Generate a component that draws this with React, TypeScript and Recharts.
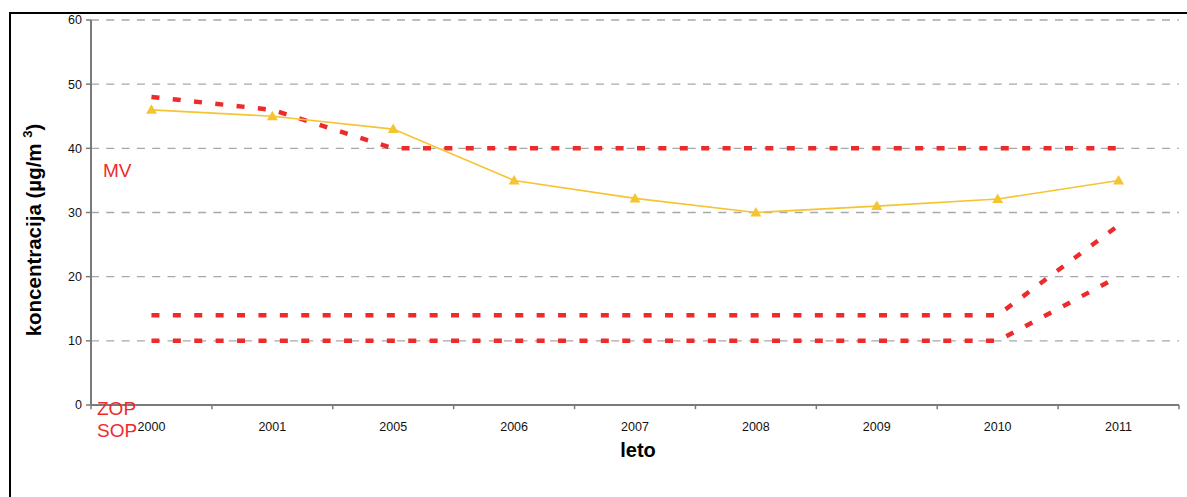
import { LineChart, Line, XAxis, YAxis, CartesianGrid, ReferenceLine } from "recharts";

const years = ["2000", "2001", "2005", "2006", "2007", "2008", "2009", "2010", "2011"];
const koncentracija = [46, 45, 43, 35, 32.2, 30, 31, 32.1, 35];
const mv = [48, 46, 40, 40, 40, 40, 40, 40, 40];
const zop = [14, 14, 14, 14, 14, 14, 14, 14, 28];
const sop = [10, 10, 10, 10, 10, 10, 10, 10, 20];
const yTicks = [0, 10, 20, 30, 40, 50, 60];

const data = years.map((year, i) => ({
  pos: i + 0.5,
  year,
  konc: koncentracija[i],
  mv: mv[i],
  zop: zop[i],
  sop: sop[i],
}));
const centers = data.map((d) => d.pos);
const bounds = years.map((_, i) => i).concat(years.length);

const RED = "#EE2B2B";
const YELLOW = "#F5C431";
const AXIS = "#7a7a7a";

const Triangle = (props: any) => {
  const { cx, cy } = props;
  if (cx == null || cy == null) return null;
  return (
    <polygon
      points={`${cx},${cy - 5.5} ${cx - 5.5},${cy + 4} ${cx + 5.5},${cy + 4}`}
      fill={YELLOW}
    />
  );
};

export default function App() {
  return (
    <div
      style={{
        position: "absolute",
        left: 0,
        top: 0,
        width: 1187,
        height: 497,
        background: "#fff",
        fontFamily: "'Liberation Sans', Arial, sans-serif",
      }}
    >
      <div
        style={{
          position: "absolute",
          left: 9,
          top: 12,
          right: 0,
          bottom: 0,
          borderLeft: "2px solid #000",
          borderTop: "2px solid #000",
        }}
      />
      <LineChart
        width={1187}
        height={497}
        data={data}
        margin={{ top: 20, right: 8, bottom: 0, left: 0 }}
        style={{ position: "absolute", left: 0, top: 0 }}
      >
        <CartesianGrid vertical={false} stroke="#a8a8a8" strokeWidth={1.3} strokeDasharray="8 7.3" />
        <XAxis
          type="number"
          dataKey="pos"
          domain={[0, years.length]}
          ticks={centers}
          tickFormatter={(v: number) => years[Math.round(v - 0.5)]}
          tickLine={false}
          axisLine={{ stroke: AXIS, strokeWidth: 2 }}
          tick={{ fontSize: 12.5, fill: "#111" }}
          tickSize={6}
          tickMargin={11}
          height={92}
          interval={0}
        />
        <YAxis
          domain={[0, 60]}
          ticks={yTicks}
          width={91}
          tickSize={5}
          tickMargin={4}
          axisLine={{ stroke: AXIS, strokeWidth: 2 }}
          tickLine={{ stroke: AXIS, strokeWidth: 1.5 }}
          tick={{ fontSize: 12.5, fill: "#111" }}
          interval={0}
        />
        {bounds.map((b) => (
          <ReferenceLine
            key={b}
            segment={[
              { x: b, y: 0 },
              { x: b, y: -0.65 },
            ]}
            stroke={AXIS}
            strokeWidth={1.5}
            ifOverflow="visible"
          />
        ))}
        <Line dataKey="mv" stroke={RED} strokeWidth={4.5} strokeDasharray="8 13.4" dot={false} isAnimationActive={false} />
        <Line dataKey="zop" stroke={RED} strokeWidth={4.5} strokeDasharray="8 13.4" dot={false} isAnimationActive={false} />
        <Line dataKey="sop" stroke={RED} strokeWidth={4.5} strokeDasharray="8 13.4" dot={false} isAnimationActive={false} />
        <Line dataKey="konc" stroke={YELLOW} strokeWidth={1.6} dot={<Triangle />} activeDot={false} isAnimationActive={false} />
      </LineChart>
      <svg
        width={1187}
        height={497}
        style={{ position: "absolute", left: 0, top: 0, pointerEvents: "none" }}
      >
        <text
          transform="translate(41,230) rotate(-90)"
          textAnchor="middle"
          fontSize={20.5}
          fontWeight="bold"
          fill="#000"
        >
          koncentracija (µg/m <tspan dy={-9} fontSize={13}>3</tspan>
          <tspan dy={9}>)</tspan>
        </text>
        <text x={638} y={457} textAnchor="middle" fontSize={20} fontWeight="bold" fill="#000">
          leto
        </text>
        <text x={103} y={177} fontSize={19} fill={RED}>MV</text>
        <text x={97} y={415} fontSize={19} fill={RED}>ZOP</text>
        <text x={97} y={437} fontSize={19} fill={RED}>SOP</text>
      </svg>
    </div>
  );
}
